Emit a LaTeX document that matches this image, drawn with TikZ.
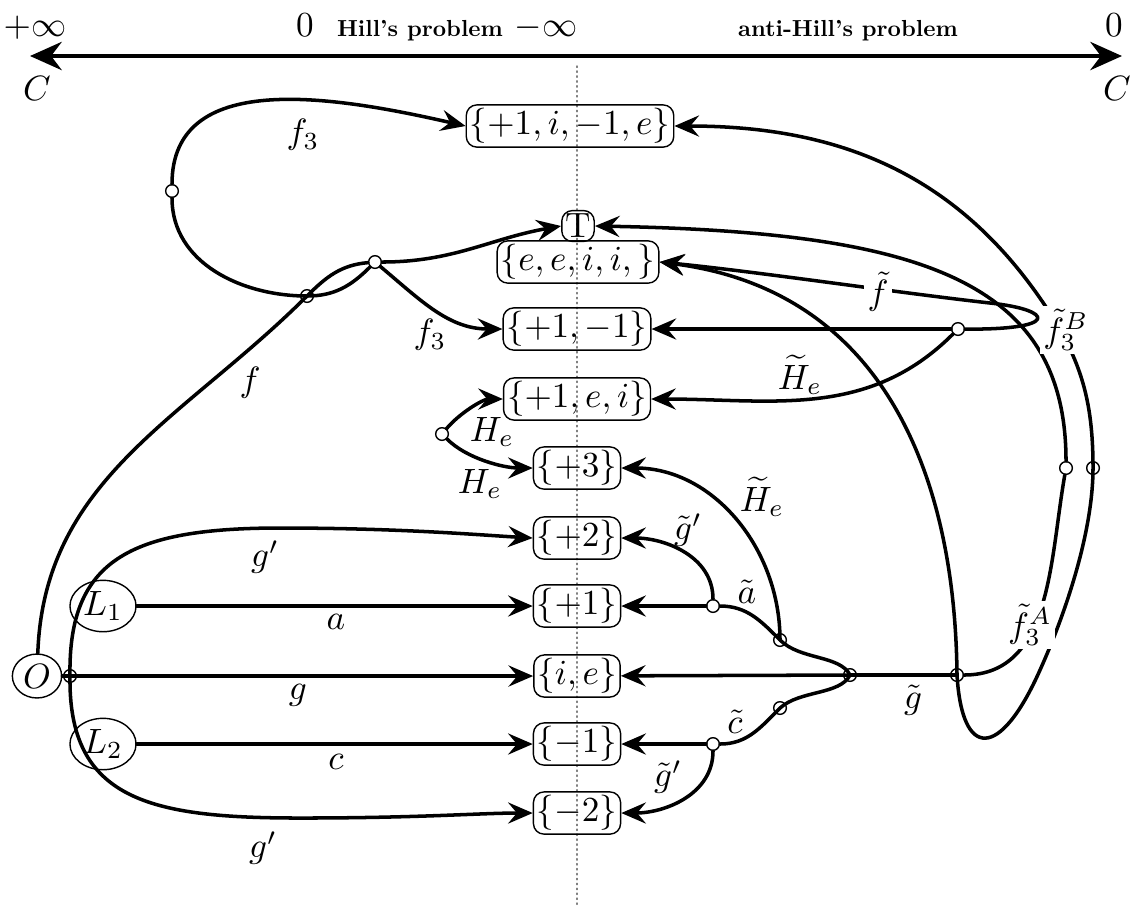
\documentclass[tikz,border=0pt]{standalone}
\usepackage{amsmath,amssymb}
\usetikzlibrary{arrows.meta,shapes.geometric,positioning}

\begin{document}
\begin{tikzpicture}[x=0.01cm,y=-0.01cm,line cap=round,line join=round,
    >={Stealth[length=7pt,width=6pt,inset=2.5pt]},
    st/.style={draw,thin,rounded corners=3pt,inner sep=1pt},
    pt/.style={draw,thin,ellipse,inner sep=1pt},
    jn/.style={draw,thin,circle,fill=white,inner sep=0pt,minimum size=3.6pt},
    br/.style={line width=1pt},
    lbl/.style={inner sep=1pt},
    cut/.style={inner sep=1pt,fill=white},
    ttl/.style={anchor=base,font=\bfseries,scale=0.66}]
    \useasboundingbox (0,0) rectangle (1131,908);

    % axis
    \coordinate (axl) at (30,56);
    \coordinate (axr) at (1122,56);
    \draw[<->,line width=1.3pt,>={Stealth[length=9pt,width=8pt,inset=3pt]}] (axl) -- (axr);
    \node[anchor=base] (pinf) at (35,36) {$+\infty$};
    \node[anchor=base] (zl) at (305,36) {$0$};
    \node[ttl] (hill) at (420,36) {Hill's problem};
    \node[anchor=base] (minf) at (546,36) {$-\infty$};
    \node[ttl] (ahill) at (848,36) {anti-Hill's problem};
    \node[anchor=base] (zr) at (1114,36) {$0$};
    \node (cl) at (37,88) {$C$};
    \node (cr) at (1117,88) {$C$};
    \draw[densely dotted,gray,thin] (577,66) -- (577,906);

    % states
    \node[st] (s4) at (570,126) {$\{+1,i,-1,e\}$};
    \node[st] (T) at (578,226) {T};
    \node[st] (ee) at (578,262) {$\{e,e,i,i,\}$};
    \node[st] (pm) at (577,329) {$\{+1,-1\}$};
    \node[st] (pei) at (577,399) {$\{+1,e,i\}$};
    \node[st] (p3) at (577,468) {$\{+3\}$};
    \node[st] (p2) at (577,538) {$\{+2\}$};
    \node[st] (p1) at (577,606) {$\{+1\}$};
    \node[st] (ie) at (577,676) {$\{i,e\}$};
    \node[st] (m1) at (577,744) {$\{-1\}$};
    \node[st] (m2) at (577,813) {$\{-2\}$};
    \node[pt] (O) at (37,676) {$O$};
    \node[pt] (L1) at (103,606) {$L_1$};
    \node[pt] (L2) at (103,744) {$L_2$};

    % branch points
    \node[jn] (jL) at (172,191) {};
    \node[jn] (jX) at (307,296) {};
    \node[jn] (jU) at (375,262) {};
    \node[jn] (jH) at (442,434) {};
    \node[jn] (jO) at (70,676) {};
    \node[jn] (jA) at (713,606) {};
    \node[jn] (jHe) at (780,640) {};
    \node[jn] (jG) at (850,675) {};
    \node[jn] (jC) at (780,708) {};
    \node[jn] (jCc) at (713,744) {};
    \node[jn] (jR) at (957,675) {};
    \node[jn] (jB) at (958,329) {};
    \node[jn] (jF1) at (1066,468) {};
    \node[jn] (jF2) at (1093,468) {};

    % left side
    \draw[br] (O) -- (jO.center);
    \draw[br,->] (jO.center) -- (ie);
    \draw[br,->] (L1) -- (p1);
    \draw[br,->] (L2) -- (m1);
    \draw[br,->] (jO.center) .. controls (68,560) and (130,528) .. (280,528) .. controls (400,528) and (480,535) .. (p2.west);
    \draw[br,->] (jO.center) .. controls (68,800) and (150,818) .. (300,818) .. controls (420,818) and (480,813) .. (m2.west);
    \draw[br,->] (O) to[out=88,in=225] (jX.center) to[out=45,in=185] (jU) to[out=0,in=190] (T.west);
    \draw[br,->] (jU) to[out=225,in=0] (jX.center) to[out=180,in=270] (jL) .. controls (172,70) and (330,95) .. (s4.west);
    \draw[br,->] (jU) to[out=-40,in=180] (pm.west);
    \draw[br,->] (jH) to[out=50,in=180,looseness=0.8] (pei.west);
    \draw[br,->] (jH) to[out=-45,in=180,looseness=0.8] (p3.west);

    % right side
    \draw[br,->] (jB) -- (pm);
    \draw[br,->] (jB) to[out=225,in=0] (pei.east);
    \draw[br,->] (jB) .. controls (1060,330) and (1055,310) .. (990,303) .. controls (900,293) and (760,272) .. (ee.east);
    \draw[br,->] (jR.center) .. controls (955,470) and (880,290) .. (ee.east);
    \draw[br,->] (jR.center) .. controls (962,760) and (1000,760) .. (1040,670) .. controls (1067,610) and (1093,530) .. (jF2.center) to[out=90,in=-56] (1044,304) to[out=124,in=0] (s4.east);
    \draw[br,->] (jR) to[out=0,in=-100] (jF1) .. controls (1066,280) and (920,232) .. (T.east);
    \draw[br,->] (jHe.center) to[out=90,in=0] (p3.east);
    \draw[br,->] (jA) to[out=90,in=0] (p2.east);
    \draw[br,->] (jA) -- (p1);
    \draw[br] (jA) to[out=0,in=135] (jHe.center) .. controls (800,660) and (840,655) .. (jG.center);
    \draw[br] (jG.center) .. controls (840,695) and (800,690) .. (jC.center) to[out=225,in=0] (jCc);
    \draw[br,->] (jG.center) -- (ie);
    \draw[br] (jR.center) -- (jG.center);
    \draw[br,->] (jCc) -- (m1);
    \draw[br,->] (jCc) to[out=-90,in=0] (m2.east);

    % labels
    \node[lbl] (lf3a) at (303,135) {$f_3$};
    \node[lbl] (lf3b) at (430,335) {$f_3$};
    \node[lbl] (lf) at (250,383) {$f$};
    \node[lbl] (lHe1) at (492,432) {$H_e$};
    \node[lbl] (lHe2) at (480,484) {$H_e$};
    \node[lbl] (lgp1) at (265,557) {$g'$};
    \node[lbl] (la) at (336,622) {$a$};
    \node[lbl] (lg) at (298,695) {$g$};
    \node[lbl] (lc) at (336,762) {$c$};
    \node[lbl] (lgp2) at (263,848) {$g'$};
    \node[lbl] (ltgp1) at (688,530) {$\tilde g'$};
    \node[lbl] (lta) at (747,592) {$\tilde a$};
    \node[lbl] (ltHe1) at (762,497) {$\widetilde{H}_e$};
    \node[lbl] (ltHe2) at (800,375) {$\widetilde{H}_e$};
    \node[lbl] (ltc) at (735,722) {$\tilde c$};
    \node[lbl] (ltgp2) at (668,777) {$\tilde g'$};
    \node[lbl] (ltg) at (913,700) {$\tilde g$};
    \node[cut] (ltf) at (878,292) {$\tilde f$};
    \node[cut] (ltfB) at (1066,330) {$\tilde f_3^B$};
    \node[cut] (ltfA) at (1030,625) {$\tilde f_3^A$};
\end{tikzpicture}
\end{document}
